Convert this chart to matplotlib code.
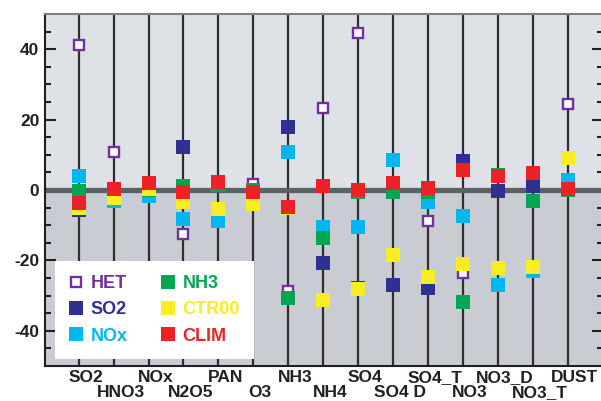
"""Species sensitivity plot: change (%) per species for each experiment."""

import matplotlib
matplotlib.use("Agg")
import matplotlib.pyplot as plt  # noqa: E402
import matplotlib.transforms as mtransforms  # noqa: E402
from matplotlib.lines import Line2D  # noqa: E402
import numpy as np  # noqa: E402

plt.rcParams["font.family"] = ["Liberation Sans", "DejaVu Sans"]
plt.rcParams["font.weight"] = "bold"
plt.rcParams["axes.unicode_minus"] = False

SPECIES = ["SO2", "HNO3", "NOx", "N2O5", "PAN", "O3", "NH3", "NH4", "SO4",
           "SO4 D", "SO4_T", "NO3", "NO3_D", "NO3_T", "DUST"]

HET = [41.3, 10.9, 2.1, -12.6, 2.4, 1.6, -28.8, 23.4, 44.7, 2.1, -8.9,
       -23.7, 4.1, 4.7, 24.3]
SO2 = [-5.8, 0.4, 2.1, 12.1, 2.4, -0.7, 18.0, -20.8, -27.9, -27.1, -27.7,
       8.1, -0.4, 1.0, 0.4]
NOX = [4.1, -3.0, -1.8, -8.1, -8.9, -4.1, 10.9, -10.4, -10.5, 8.4, -3.5,
       -7.5, -27.1, -23.1, 2.7]
NH3 = [-0.3, -1.0, -0.1, 1.0, 1.3, -0.1, -30.6, -13.5, -0.7, -0.7, -0.7,
       -31.9, 4.4, -3.1, -0.1]
CTR00 = [-5.2, -2.4, 0.4, -3.5, -5.5, -4.1, -5.0, -31.3, -28.2, -18.6, -24.7,
         -21.1, -22.3, -22.0, 9.2]
CLIM = [-3.8, 0.4, 2.1, -0.7, 2.4, -0.7, -4.7, 1.0, -0.1, 2.1, 0.7, 5.8,
        4.1, 4.7, 0.4]

COLORS = {"HET": "#70309f", "SO2": "#2e3192", "NOx": "#00b6f1",
          "NH3": "#00a651", "CTR00": "#f8ec22", "CLIM": "#ed2226"}


def main():
    fig = plt.figure(figsize=(6.01, 4.01), dpi=100)
    W, H = 601, 401
    ax = fig.add_axes([45 / W, 35 / H, 558 / W, 352 / H])

    x = np.arange(len(SPECIES))
    ax.set_xlim(-0.965, 15.01)
    ax.set_ylim(-50, 50)

    # two-tone background, thick zero line, one vertical guide per species
    ax.axhspan(0, 50, color="#dee1e6", zorder=0, lw=0)
    ax.axhspan(-50, 0, color="#c9ccd3", zorder=0, lw=0)
    ax.vlines(x, -50, 50, color="#2f2f2f", lw=1.6, zorder=1)
    ax.axhline(0, color="#5a6265", lw=3.8, zorder=2)

    ms = 9.4
    ax.plot(x, HET, ls="none", marker="s", ms=ms - 1.7, mfc="white",
            mec=COLORS["HET"], mew=1.7, zorder=3)
    for z, (name, vals) in enumerate([("SO2", SO2), ("NOx", NOX),
                                      ("NH3", NH3), ("CTR00", CTR00),
                                      ("CLIM", CLIM)]):
        ax.plot(x, vals, ls="none", marker="s", ms=ms, mfc=COLORS[name],
                mew=0, zorder=4 + z)

    # y axis: ticks inside on both sides
    ax.set_yticks([-40, -20, 0, 20, 40])
    ax.set_yticks(np.arange(-45, 50, 5), minor=True)
    ax.tick_params(axis="y", which="both", direction="in", left=True,
                   right=True, width=1.5, color="#231f20", labelsize=12.5,
                   labelcolor="#231f20", pad=4)
    ax.tick_params(axis="y", which="major", length=8)
    ax.tick_params(axis="y", which="minor", length=4.5)

    # x axis: staggered species names
    ax.set_xticks(x[::2], SPECIES[::2])
    ax.set_xticks(x[1::2], SPECIES[1::2], minor=True)
    ax.tick_params(axis="x", which="both", length=0, labelsize=12.5,
                   labelcolor="#231f20")
    ax.tick_params(axis="x", which="major", pad=3)
    ax.tick_params(axis="x", which="minor", pad=14)
    shift = mtransforms.ScaledTranslation(5 / 72, 0, fig.dpi_scale_trans)
    for lbl in ax.get_xticklabels(which="both"):
        lbl.set_transform(lbl.get_transform() + shift)

    for side in ("left", "bottom"):
        ax.spines[side].set_color("#231f20")
        ax.spines[side].set_linewidth(1.5)
    ax.spines["top"].set_color("#7f7f7f")
    ax.spines["top"].set_linewidth(1.5)
    ax.spines["right"].set_visible(False)

    names = ["HET", "SO2", "NOx", "NH3", "CTR00", "CLIM"]
    handles = []
    for n in names:
        if n == "HET":
            h = Line2D([], [], ls="none", marker="s", ms=ms - 1.7,
                       mfc="white", mec=COLORS[n], mew=1.7)
        else:
            h = Line2D([], [], ls="none", marker="s", ms=ms,
                       mfc=COLORS[n], mew=0)
        handles.append(h)
    leg = ax.legend(handles, names, ncol=2, loc="lower left",
                    bbox_to_anchor=(0.018, 0.02), borderaxespad=0,
                    frameon=True, facecolor="white", edgecolor="none",
                    framealpha=1, fancybox=False, handlelength=0.75,
                    handletextpad=0.4, columnspacing=1.9, borderpad=0.8,
                    labelspacing=0.5, prop={"size": 13, "weight": "bold"},
                    labelcolor=[COLORS[n] for n in names])
    leg.set_zorder(20)

    fig.savefig("out.png", dpi=100)


if __name__ == "__main__":
    main()
